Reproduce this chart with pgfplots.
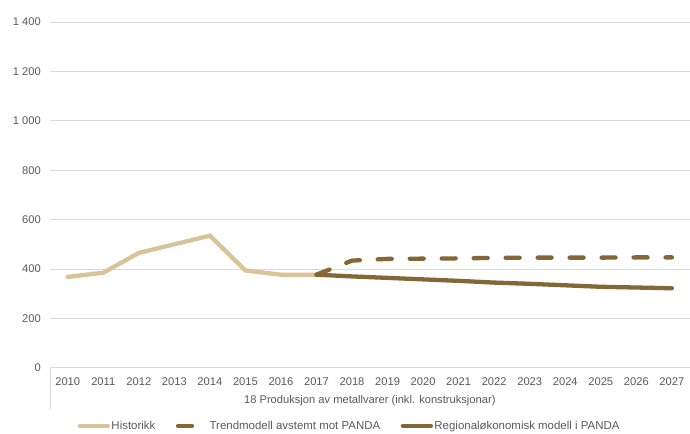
\documentclass[border=0pt]{standalone}
\usepackage{fontspec}
\setmainfont{Liberation Sans}
\usepackage{pgfplots}
\pgfplotsset{compat=1.18}
\definecolor{histc}{HTML}{D8C498}
\definecolor{mork}{HTML}{836735}
\definecolor{gridc}{HTML}{D9D9D9}
\definecolor{txt}{HTML}{595959}

\begin{document}
\begin{tikzpicture}
\path (-50bp,-66bp) rectangle (640bp,368bp);
\begin{axis}[
  at={(0,0)}, anchor=south west, scale only axis,
  width=640bp, height=346bp,
  xmin=-0.5, xmax=17.5, ymin=0, ymax=1400,
  xtick={0,...,17},
  xticklabels={2010,2011,2012,2013,2014,2015,2016,2017,2018,2019,2020,2021,2022,2023,2024,2025,2026,2027},
  ytick={0,200,...,1400},
  axis line style={draw=none},
  ymajorgrids, major grid style={gridc, line width=0.75bp},
  major tick length=0,
  tick label style={font=\fontsize{11.2}{13}\selectfont, text=txt},
  xticklabel style={anchor=center, inner sep=0pt, yshift=-14bp},
  yticklabel style={anchor=east, inner sep=0pt, xshift=-9bp},
  /pgf/number format/assume math mode=true,
  /pgf/number format/1000 sep={\ },
  clip=false,
  legend columns=3,
  legend cell align=left,
  legend image code/.code={\draw[#1] (0bp,0bp) -- (28bp,0bp);},
  legend style={at={(rel axis cs:0.468,-0.168)}, anchor=center, draw=none, fill=none,
    font=\fontsize{11.5}{13}\selectfont, text=txt, inner sep=0pt,
    nodes={inner sep=1.5bp},
    /tikz/every even column/.append style={column sep=19bp}},
]
\addplot[histc, line width=4.3bp, line cap=round, line join=miter]
  coordinates {(0,368)(1,385)(2,465)(3,500)(4,535)(5,394)(6,377)(7,377)};
\addlegendentry{Historikk}
\addplot[mork, line width=4.3bp, line cap=round, line join=round, dash pattern=on 14bp off 18bp]
  coordinates {(7,377)(8,434)(9,441)(10,442)(11,443)(12,445)(13,446)(14,446)(15,446)(16,447)(17,447)};
\addlegendentry{Trendmodell avstemt mot PANDA}
\addplot[mork, line width=4.3bp, line cap=round, line join=round]
  coordinates {(7,377)(8,370)(9,364)(10,358)(11,352)(12,345)(13,340)(14,334)(15,328)(16,325)(17,322)};
\addlegendentry{Regionaløkonomisk modell i PANDA}
\draw[gridc, line width=0.75bp] (rel axis cs:0,0) -- ++(0bp,-41bp);
\node[text=txt, font=\fontsize{11.2}{13}\selectfont, anchor=center] at (rel axis cs:0.5,0) [yshift=-32.5bp]
  {18 Produksjon av metallvarer (inkl. konstruksjonar)};
\end{axis}
\end{tikzpicture}
\end{document}
